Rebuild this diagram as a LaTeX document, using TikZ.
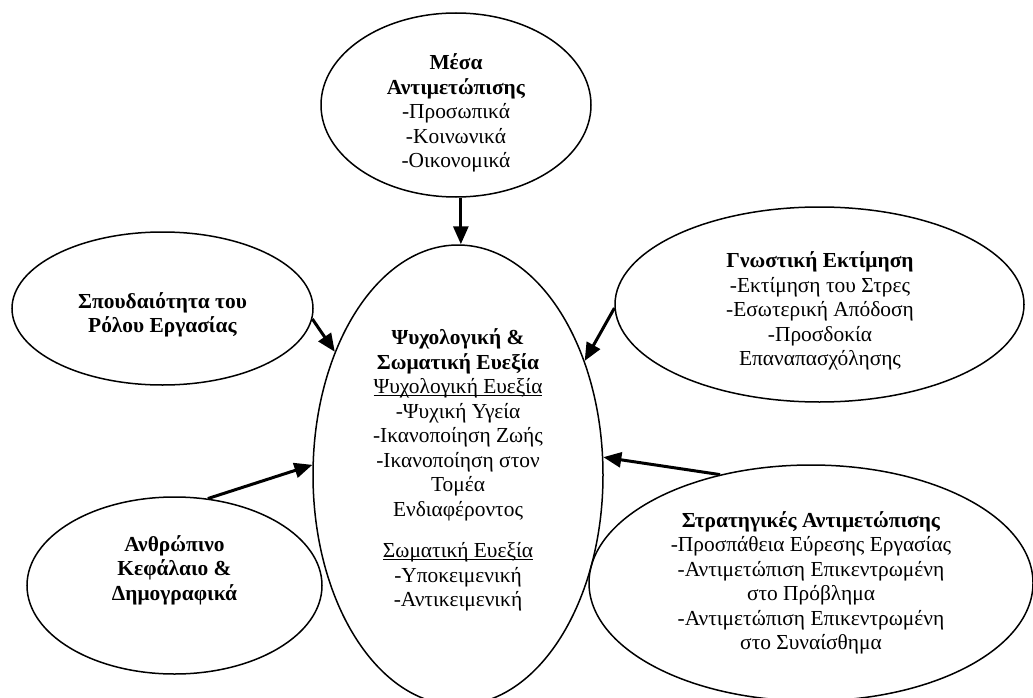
\documentclass[tikz,border=0pt]{standalone}
\usepackage{fontspec}
\setmainfont{Liberation Serif}
\usetikzlibrary{shapes.geometric,arrows.meta}
\newcommand{\myul}[1]{{\setbox0\hbox{#1}\rlap{\rule[-2.5pt]{\wd0}{1pt}}\box0}}
\begin{document}
\begin{tikzpicture}[x=1pt,y=-1pt,
  oval/.style={draw, ellipse, line width=1.5pt, inner sep=0pt},
  txt/.style={align=center, font=\fontsize{21.4}{24.5}\selectfont, inner sep=0pt},
  arr/.style={line width=3pt, -{Triangle[length=18pt,width=15pt]}}]
\useasboundingbox (0,0) rectangle (1033,698);
% ellipses
\node[oval, minimum width=270pt, minimum height=184pt] (M) at (456,105) {};
\node[oval, minimum width=290pt, minimum height=460pt] (C) at (458,475) {};
\node[oval, minimum width=301pt, minimum height=153pt] (Sp) at (162.5,308.5) {};
\node[oval, minimum width=295pt, minimum height=177pt] (A) at (174.5,585.5) {};
\node[oval, minimum width=409pt, minimum height=195pt] (G) at (819.5,304.5) {};
\node[oval, minimum width=444pt, minimum height=236pt] (S) at (811,583) {};
% texts
\node[txt] (Mt) at (456,113) {\textbf{Μέσα}\\\textbf{Αντιμετώπισης}\\-Προσωπικά\\-Κοινωνικά\\-Οικονομικά};
\node[txt] (Ct) at (458,470) {\textbf{Ψυχολογική \&}\\\textbf{Σωματική Ευεξία}\\\myul{Ψυχολογική Ευεξία}\\-Ψυχική Υγεία\\-Ικανοποίηση Ζωής\\-Ικανοποίηση στον\\Τομέα\\Ενδιαφέροντος\\[17pt]\myul{Σωματική Ευεξία}\\-Υποκειμενική\\-Αντικειμενική};
\node[txt] (Spt) at (162.5,315) {\textbf{Σπουδαιότητα του}\\\textbf{Ρόλου Εργασίας}};
\node[txt] (At) at (174.5,570) {\textbf{Ανθρώπινο}\\\textbf{Κεφάλαιο \&}\\\textbf{Δημογραφικά}};
\node[txt] (Gt) at (820,311) {\textbf{Γνωστική Εκτίμηση}\\-Εκτίμηση του Στρες\\-Εσωτερική Απόδοση\\-Προσδοκία\\Επαναπασχόλησης};
\node[txt] (St) at (811,583) {\textbf{Στρατηγικές Αντιμετώπισης}\\-Προσπάθεια Εύρεσης Εργασίας\\-Αντιμετώπιση Επικεντρωμένη\\στο Πρόβλημα\\-Αντιμετώπιση Επικεντρωμένη\\στο Συναίσθημα};
% arrows
\draw[arr] (M.-87) -- (M.-87 |- C.north);
\draw[arr] (Sp.-4.4) -- (C.135.9);
\draw[arr] (A.69.3) -- (C.176);
\draw[arr] (G.181.5) -- (C.42.8);
\draw[arr] (S.130.6) -- (C.7.1);
\end{tikzpicture}
\end{document}
